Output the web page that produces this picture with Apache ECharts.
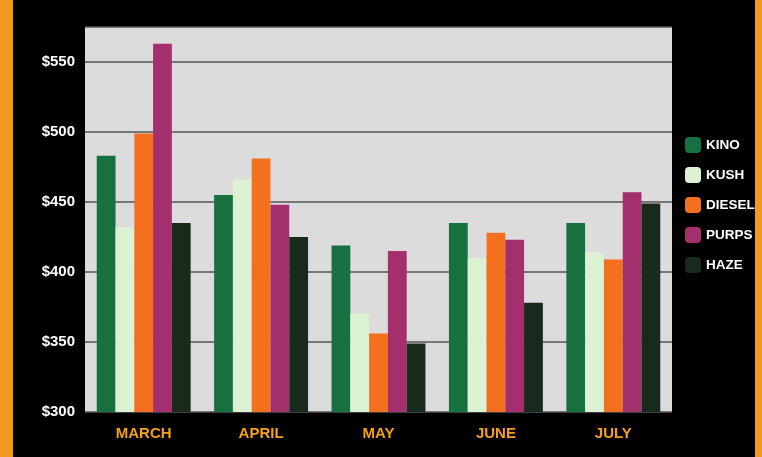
<!DOCTYPE html>
<html>
<head>
<meta charset="utf-8">
<script src="https://cdn.jsdelivr.net/npm/echarts@6/dist/echarts.min.js"></script>
<style>
html,body{margin:0;padding:0;background:#000;}
#c{width:762px;height:457px;}
</style>
</head>
<body>
<div id="c"></div>
<script>
const categories = ['MARCH', 'APRIL', 'MAY', 'JUNE', 'JULY'];
const kino   = [483, 455, 419, 435, 435];
const kush   = [432, 466, 370, 410, 414];
const diesel = [499, 481, 356, 428, 409];
const purps  = [563, 448, 415, 423, 457];
const haze   = [435, 425, 349, 378, 449];
const seriesNames = ['KINO', 'KUSH', 'DIESEL', 'PURPS', 'HAZE'];
const seriesColors = ['#17703f', '#dcf2d2', '#f5701e', '#a32f6d', '#172a1b'];
const yTicks = [300, 350, 400, 450, 500, 550];

const font = '"Liberation Sans",Arial,sans-serif';
const chart = echarts.init(document.getElementById('c'));
const dataArr = [kino, kush, diesel, purps, haze];
chart.setOption({
  backgroundColor: '#000',
  animation: false,
  graphic: [
    {type: 'rect', left: 0, top: 0, shape: {width: 13, height: 457}, style: {fill: '#f39a1e'}},
    {type: 'rect', left: 755, top: 0, shape: {width: 7, height: 457}, style: {fill: '#f39a1e'}}
  ],
  grid: {left: 85, right: 90, top: 27, bottom: 45, show: true, backgroundColor: '#dcdcdc', borderWidth: 0},
  legend: {
    orient: 'vertical', left: 680, top: 132, itemWidth: 16, itemHeight: 16, itemGap: 14,
    icon: 'roundRect',
    textStyle: {color: '#fff', fontFamily: font, fontWeight: 'bold', fontSize: 13.5},
    data: seriesNames
  },
  xAxis: {
    type: 'category', data: categories,
    axisLine: {show: false}, axisTick: {show: false},
    axisLabel: {color: '#f5a01c', fontFamily: font, fontWeight: 'bold', fontSize: 15, margin: 14}
  },
  yAxis: {
    type: 'value', min: 300, max: 575, interval: 50,
    axisLine: {show: false}, axisTick: {show: false},
    splitLine: {lineStyle: {color: '#555', width: 1.5}},
    axisLabel: {
      color: '#fff', fontFamily: font, fontWeight: 'bold', fontSize: 15, margin: 10,
      showMaxLabel: false,
      formatter: v => yTicks.includes(v) ? '$' + v : ''
    }
  },
  series: seriesNames.map((n, i) => ({
    name: n, type: 'bar', data: dataArr[i], barGap: 0, barCategoryGap: '20%',
    itemStyle: {color: seriesColors[i]}
  }))
});
</script>
</body>
</html>
